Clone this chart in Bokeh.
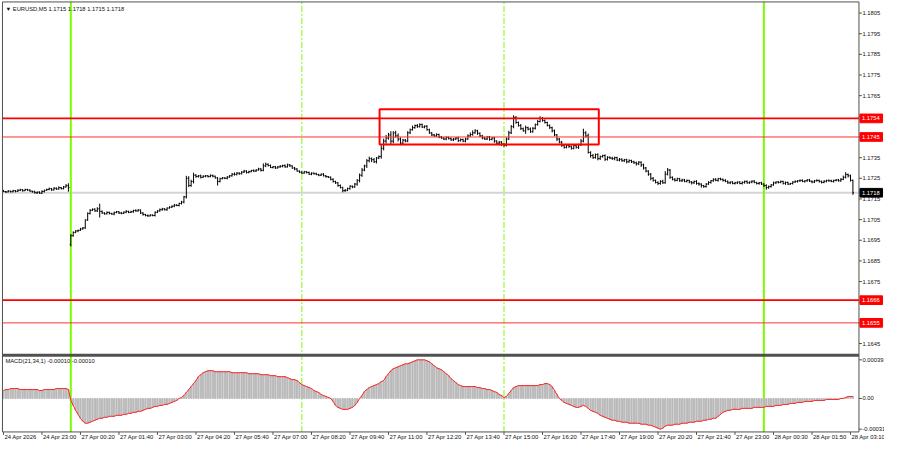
from bokeh.plotting import figure
from bokeh.models import Range1d, ColumnDataSource
from bokeh.core.properties import value
from bokeh.embed import file_html
from bokeh.resources import INLINE

# ---------------- data (prices in points of 0.00001 above 1.17000) ----------------
first_open = 190
monday_index = 28
monday_open = -70
closes = [
    186, 184, 188, 185, 190, 187, 192, 195, 190, 196,
    193, 188, 185, 180, 183, 178, 186, 192, 196, 200,
    194, 202, 198, 205, 200, 208, 214, 205,
    -28, -12, -5, -2, 5, 10, 48, 80, 95, 100,
    92, 102, 90, 82, 78, 85, 80, 77, 84, 88,
    82, 80, 86, 90, 85, 88, 94, 92, 96, 82,
    75, 70, 68, 72, 70, 85, 92, 98, 102, 98,
    106, 110, 115, 120, 118, 128, 135, 160, 250, 215,
    235, 265, 258, 262, 255, 260, 262, 258, 264, 260,
    252, 235, 248, 252, 250, 256, 262, 270, 268, 275,
    272, 280, 285, 278, 282, 288, 285, 290, 295, 288,
    310, 318, 312, 302, 306, 300, 305, 308, 312, 305,
    315, 310, 300, 295, 285, 280, 275, 282, 278, 270,
    275, 272, 268, 265, 270, 262, 258, 255, 245, 235,
    228, 215, 205, 190, 192, 200, 212, 208, 222, 240,
    265, 290, 310, 335, 345, 340, 330, 348, 355, 395,
    430, 445, 460, 430, 470, 455, 440, 420, 435, 430,
    470, 485, 495, 505, 500, 510, 498, 502, 485, 470,
    460, 455, 462, 450, 445, 440, 448, 442, 436, 440,
    445, 432, 438, 430, 440, 455, 462, 470, 480, 468,
    455, 445, 440, 450, 438, 445, 430, 420, 425, 415,
    410, 440, 470, 500, 545, 520, 505, 490, 480, 495,
    488, 475, 492, 510, 525, 540, 530, 520, 505, 495,
    480, 460, 440, 425, 410, 400, 410, 405, 395, 408,
    400, 412, 430, 470, 455, 375, 360, 350, 365, 345,
    355, 360, 342, 352, 348, 345, 350, 338, 342, 335,
    340, 330, 336, 330, 325, 320, 328, 315, 300, 285,
    270, 250, 240, 230, 225, 235, 228, 270, 290, 255,
    245, 240, 248, 238, 242, 235, 240, 232, 228, 235,
    225, 222, 215, 210, 222, 230, 238, 245, 240, 248,
    245, 240, 235, 228, 232, 225, 228, 232, 225, 230,
    235, 228, 232, 236, 230, 225, 228, 222, 215, 205,
    210, 218, 228, 232, 230, 235, 226, 230, 222, 225,
    232, 235, 238, 240, 235, 238, 242, 236, 232, 238,
    240, 235, 230, 236, 240, 238, 235, 240, 242, 238,
    245, 255, 268, 262, 240, 180,
]
hi_wick = [
    4, 3, 5, 2, 4, 3, 5, 4, 2, 3,
    3, 4, 2, 5, 3, 4, 6, 3, 4, 5,
    3, 5, 4, 6, 3, 5, 8, 12,
    8, 5, 4, 3, 5, 4, 3, 5, 6, 4,
    5, 8, 25, 4, 3, 5, 4, 3, 5, 4,
    3, 5, 4, 6, 3, 5, 4, 6, 5, 3,
    4, 3, 5, 4, 3, 5, 4, 6, 5, 4,
    3, 5, 4, 6, 5, 4, 6, 5, 12, 10,
    8, 12, 5, 4, 6, 5, 4, 3, 5, 4,
    3, 4, 5, 4, 3, 5, 4, 6, 8, 5,
    4, 5, 6, 4, 5, 3, 5, 4, 6, 5,
    12, 8, 4, 5, 3, 4, 5, 6, 4, 5,
    6, 4, 3, 5, 4, 3, 5, 4, 3, 5,
    4, 3, 5, 4, 3, 5, 4, 3, 4, 5,
    3, 4, 5, 4, 6, 5, 4, 3, 5, 6,
    8, 10, 6, 8, 10, 6, 8, 5, 6, 15,
    12, 15, 10, 18, 8, 10, 12, 8, 6, 5,
    8, 6, 10, 5, 8, 6, 5, 4, 6, 5,
    4, 5, 6, 4, 5, 3, 5, 4, 6, 5,
    4, 6, 5, 4, 6, 8, 10, 12, 8, 5,
    4, 5, 6, 4, 5, 3, 5, 4, 6, 5,
    6, 8, 10, 8, 10, 6, 5, 8, 6, 10,
    5, 8, 6, 5, 8, 10, 6, 5, 4, 6,
    5, 6, 4, 5, 6, 4, 5, 6, 4, 5,
    6, 5, 10, 20, 8, 12, 6, 8, 5, 6,
    5, 4, 6, 5, 4, 6, 5, 4, 6, 5,
    4, 5, 6, 4, 5, 6, 5, 4, 6, 5,
    4, 5, 6, 4, 5, 6, 8, 15, 10, 5,
    4, 6, 5, 4, 6, 5, 4, 3, 5, 4,
    6, 5, 4, 3, 5, 6, 4, 5, 6, 4,
    5, 4, 6, 5, 3, 4, 5, 3, 4, 5,
    4, 5, 3, 4, 5, 3, 4, 5, 4, 6,
    5, 4, 6, 3, 5, 4, 3, 5, 4, 3,
    4, 5, 3, 4, 5, 3, 4, 5, 3, 4,
    5, 3, 4, 5, 3, 4, 5, 3, 4, 5,
    6, 8, 12, 5, 6, 4,
]
lo_wick = [
    3, 5, 2, 4, 3, 5, 3, 4, 5, 2,
    4, 3, 5, 4, 6, 3, 4, 5, 3, 4,
    5, 3, 4, 3, 5, 4, 3, 20,
    10, 5, 4, 6, 3, 4, 5, 4, 5, 3,
    4, 5, 30, 5, 4, 3, 5, 4, 6, 3,
    5, 4, 3, 5, 4, 3, 5, 4, 3, 5,
    6, 4, 5, 3, 4, 5, 3, 4, 5, 4,
    5, 3, 4, 5, 3, 4, 5, 6, 8, 8,
    6, 10, 5, 4, 6, 3, 5, 4, 3, 5,
    4, 20, 5, 3, 4, 5, 3, 4, 5, 4,
    5, 3, 4, 5, 4, 3, 5, 4, 3, 5,
    4, 6, 5, 3, 4, 5, 3, 4, 5, 4,
    3, 5, 4, 6, 3, 5, 4, 3, 5, 4,
    5, 4, 3, 5, 4, 3, 5, 4, 5, 6,
    5, 6, 4, 8, 6, 4, 5, 6, 4, 8,
    10, 8, 6, 10, 8, 12, 6, 8, 5, 10,
    10, 12, 8, 15, 10, 8, 12, 10, 8, 6,
    5, 6, 4, 5, 6, 4, 5, 6, 4, 5,
    6, 4, 5, 6, 4, 5, 6, 4, 5, 6,
    5, 6, 4, 5, 6, 4, 5, 6, 4, 8,
    5, 6, 4, 5, 6, 4, 8, 6, 10, 8,
    8, 6, 5, 6, 8, 6, 5, 6, 4, 15,
    6, 5, 4, 6, 5, 4, 6, 5, 4, 6,
    8, 6, 10, 6, 8, 6, 5, 8, 6, 5,
    6, 8, 5, 6, 8, 5, 10, 6, 5, 8,
    6, 5, 8, 6, 5, 6, 8, 5, 6, 5,
    6, 8, 5, 6, 5, 8, 6, 10, 8, 6,
    8, 10, 6, 5, 8, 6, 5, 4, 6, 8,
    5, 6, 4, 5, 6, 4, 5, 6, 8, 5,
    6, 8, 10, 6, 5, 4, 6, 5, 4, 6,
    5, 6, 4, 5, 6, 4, 5, 6, 4, 5,
    6, 4, 5, 6, 4, 5, 6, 4, 8, 10,
    6, 5, 4, 6, 5, 4, 6, 8, 5, 4,
    5, 4, 6, 5, 4, 6, 5, 4, 6, 5,
    4, 6, 5, 4, 6, 5, 4, 6, 5, 4,
    5, 4, 6, 8, 6, 10,
]
# MACD(21,34,1) main values in units of 0.00001
macd = [
    8, 9, 9, 10, 10, 10, 10, 9, 9, 9,
    9, 9, 9, 9, 9, 8, 8, 9, 9, 9,
    9, 9, 10, 10, 10, 10, 10, 9,
    -2, -7, -12, -16, -20, -23, -25, -25, -24, -23,
    -22, -21, -20, -20, -19, -19, -18, -18, -18, -17,
    -17, -17, -16, -16, -15, -15, -14, -14, -13, -13,
    -12, -11, -10, -10, -9, -8, -8, -7, -7, -6,
    -6, -5, -4, -3, -2, 0, 1, 3, 6, 9,
    12, 15, 18, 22, 24, 26, 27, 28, 28, 28,
    27, 27, 27, 27, 27, 27, 27, 26, 26, 26,
    26, 26, 26, 26, 25, 25, 25, 25, 25, 24,
    24, 24, 24, 23, 23, 23, 22, 22, 22, 22,
    21, 20, 19, 19, 18, 16, 14, 13, 12, 11,
    10, 8, 7, 6, 4, 3, 2, 1, 0, -3,
    -7, -9, -10, -11, -11, -11, -10, -9, -7, -4,
    0, 3, 7, 9, 11, 12, 13, 14, 15, 17,
    18, 22, 25, 28, 30, 31, 32, 33, 34, 35,
    35, 36, 37, 38, 39, 39, 39, 39, 38, 37,
    35, 33, 31, 30, 29, 27, 25, 23, 20, 18,
    16, 14, 13, 12, 12, 12, 12, 12, 12, 11,
    11, 10, 10, 9, 9, 8, 7, 6, 4, 3,
    1, 2, 5, 8, 11, 12, 13, 13, 13, 13,
    13, 13, 13, 13, 13, 14, 14, 15, 15, 14,
    12, 8, 4, 0, -2, -4, -5, -6, -7, -8,
    -9, -9, -8, -7, -8, -10, -12, -13, -14, -15,
    -17, -18, -19, -20, -21, -22, -22, -23, -23, -24,
    -24, -24, -25, -25, -25, -25, -25, -26, -26, -26,
    -27, -27, -28, -29, -30, -31, -30, -28, -27, -27,
    -27, -26, -26, -26, -25, -25, -25, -24, -24, -24,
    -23, -23, -23, -22, -22, -21, -21, -20, -20, -18,
    -16, -14, -13, -12, -12, -11, -11, -11, -11, -10,
    -10, -10, -10, -10, -9, -9, -9, -9, -9, -8,
    -8, -8, -8, -7, -7, -7, -6, -6, -6, -5,
    -5, -5, -4, -4, -4, -3, -3, -3, -3, -2,
    -2, -2, -2, -2, -1, -1, -1, -1, -1, -1,
    0, 0, 1, 2, 2, 2,
]
time_labels = ["24 Apr 2026", "24 Apr 23:00", "27 Apr 00:20", "27 Apr 01:40", "27 Apr 03:00",
               "27 Apr 04:20", "27 Apr 05:40", "27 Apr 07:00", "27 Apr 08:20", "27 Apr 09:40",
               "27 Apr 11:00", "27 Apr 12:20", "27 Apr 13:40", "27 Apr 15:00", "27 Apr 16:20",
               "27 Apr 17:40", "27 Apr 19:00", "27 Apr 20:20", "27 Apr 21:40", "27 Apr 23:00",
               "28 Apr 00:30", "28 Apr 01:50", "28 Apr 03:10"]
time_label_bars = [0, 16, 32, 48, 64, 80, 96, 112, 128, 144, 160, 176, 192, 208, 224,
                   240, 256, 272, 288, 304, 320, 336, 352]
price_ticks = [1.1645, 1.1655, 1.1665, 1.1675, 1.1685, 1.1695, 1.1705, 1.1715, 1.1725,
               1.1735, 1.1745, 1.1755, 1.1765, 1.1775, 1.1785, 1.1795, 1.1805]
hidden_price_ticks = [1.1655, 1.1665, 1.1745, 1.1755]
macd_ticks = [39, 0, -31]
macd_tick_text = ["0.00039", "0.00", "-0.00031"]
red_levels_thick = [1.1754, 1.1666]
red_levels_thin = [1.1745, 1.1655]
bid_price = 1.1718
day_lines = [28, 316]
session_lines = [124, 208]
box_left, box_right, box_low, box_high = 156.3, 247.4, 1.17414, 1.17584
header_text = "\u25bc EURUSD,M5  1.1715 1.1718 1.1715 1.1718"
macd_header = "MACD(21,34,1) -0.00010 -0.00010"

N = len(closes)
assert len(hi_wick) == N and len(lo_wick) == N and len(macd) == N, (N, len(hi_wick), len(lo_wick), len(macd))

# ---------------- derived OHLC ----------------
BASE = 1.17
opens_p = [first_open] + closes[:-1]
opens_p[monday_index] = monday_open
o = [BASE + v / 1e5 for v in opens_p]
c = [BASE + v / 1e5 for v in closes]
h = [BASE + (max(a, b) + w) / 1e5 for a, b, w in zip(opens_p, closes, hi_wick)]
l = [BASE + (min(a, b) - w) / 1e5 for a, b, w in zip(opens_p, closes, lo_wick)]
ks = list(range(N))

# ---------------- layout (MetaTrader-like window, in reference pixels) ----------------
W, H = 884, 444
REF_W, REF_H = 900, 460
BAR_PX = 2.45          # bar spacing
BAR0_PX = 3.0          # x of bar 0
PIP_PX = 21.4          # pixels per 0.001
P_REF, P_REF_Y = 1.1805, 13.0
M_ZERO_Y, M_PX = 412.3, 1.026
FRAME_L, FRAME_R, FRAME_T, FRAME_B = 2.0, 874.0, 1.5, 447.0
SEP_Y = 367.5


def kx(px):
    return (px - BAR0_PX) / BAR_PX


def py(px):
    return P_REF - (px - P_REF_Y) / PIP_PX * 0.001


def my(px):
    return (M_ZERO_Y - px) / M_PX


FONT = "Liberation Sans"
AX = "#505050"
TXT = "#111111"

p = figure(width=W, height=H, output_backend="svg", toolbar_location=None, tools="",
           x_range=Range1d(kx(0), kx(REF_W)), y_range=Range1d(py(REF_H), py(0)),
           x_axis_location=None, y_axis_location=None,
           min_border_left=0, min_border_right=0, min_border_top=0, min_border_bottom=0)
p.extra_y_ranges = {"macd": Range1d(my(REF_H), my(0))}
p.xgrid.visible = False
p.ygrid.visible = False
p.outline_line_color = None
p.background_fill_color = "white"
p.border_fill_color = "white"

xl, xr = kx(FRAME_L), kx(FRAME_R)
yt, yb = py(FRAME_T), py(FRAME_B)

# background lines: bid line and vertical day / session separators
p.segment(x0=[xl], y0=[bid_price], x1=[xr], y1=[bid_price], line_color="#D4D4D4", line_width=2)
p.segment(x0=day_lines, y0=[yb] * len(day_lines), x1=day_lines, y1=[yt] * len(day_lines),
          line_color="#7CFC00", line_width=2)
p.segment(x0=session_lines, y0=[yb] * len(session_lines), x1=session_lines,
          y1=[yt] * len(session_lines), line_color="#7CFC00", line_width=1, line_dash="6 2 2 2")

# MACD window
p.vbar(x=ks, top=macd, bottom=0, width=0.5, color="#B9B9B9", y_range_name="macd")
p.line(ks, macd, line_color="#FF2020", line_width=1, y_range_name="macd")

# OHLC bars
src = ColumnDataSource(dict(k=ks, o=o, h=h, l=l, c=c,
                            kl=[x - 0.45 for x in ks], kr=[x + 0.45 for x in ks]))
p.segment(x0="k", y0="l", x1="k", y1="h", source=src, line_color="black", line_width=1)
p.segment(x0="kl", y0="o", x1="k", y1="o", source=src, line_color="black", line_width=1)
p.segment(x0="k", y0="c", x1="kr", y1="c", source=src, line_color="black", line_width=1)

# horizontal levels and the range box
p.segment(x0=[xl] * 2, y0=red_levels_thick, x1=[xr] * 2, y1=red_levels_thick,
          line_color="#FF0000", line_width=1.8)
p.segment(x0=[xl] * 2, y0=red_levels_thin, x1=[xr] * 2, y1=red_levels_thin,
          line_color="#FF3030", line_width=1)
p.quad(left=[box_left], right=[box_right], bottom=[box_low], top=[box_high],
       fill_alpha=0, line_color="#FF0000", line_width=2)

# window frames, separator
p.segment(x0=[xl, xl, xr, xl], y0=[yt, yt, yt, yb], x1=[xl, xr, xr, xr], y1=[yb, yt, yb, yb],
          line_color=AX, line_width=1)
p.segment(x0=[xl], y0=[py(SEP_Y)], x1=[xr], y1=[py(SEP_Y)], line_color=AX, line_width=3)

# right price scale
tick_x0, tick_x1, lab_x = kx(FRAME_R), kx(FRAME_R + 3), kx(FRAME_R + 3.5)
p.segment(x0=[tick_x0] * len(price_ticks), y0=price_ticks, x1=[tick_x1] * len(price_ticks),
          y1=price_ticks, line_color=AX, line_width=1)
shown = [t for t in price_ticks if t not in hidden_price_ticks]
p.text(x=[lab_x] * len(shown), y=shown, text=[f"{t:.4f}" for t in shown],
       text_font=value(FONT), text_font_size=value("5.8px"), text_color=TXT,
       text_align="left", text_baseline="middle")
# MACD scale
p.segment(x0=[tick_x0] * len(macd_ticks), y0=macd_ticks, x1=[tick_x1] * len(macd_ticks),
          y1=macd_ticks, line_color=AX, line_width=1, y_range_name="macd")
p.text(x=[lab_x] * len(macd_ticks), y=macd_ticks, text=macd_tick_text, y_range_name="macd",
       text_font=value(FONT), text_font_size=value("5.8px"), text_color=TXT,
       text_align="left", text_baseline="middle")

# level price tags on the scale
tags = red_levels_thick + red_levels_thin + [bid_price]
tag_cols = ["#FF0000"] * 4 + ["#000000"]
half = 4.5 / PIP_PX * 0.001
p.quad(left=[kx(FRAME_R + 1)] * 5, right=[kx(FRAME_R + 24)] * 5,
       bottom=[t - half for t in tags], top=[t + half for t in tags],
       fill_color=tag_cols, line_color=tag_cols)
p.text(x=[kx(FRAME_R + 3)] * 5, y=tags, text=[f"{t:.4f}" for t in tags],
       text_font=value(FONT), text_font_size=value("5.8px"), text_color="white",
       text_align="left", text_baseline="middle")

# time scale
p.segment(x0=time_label_bars, y0=[yb] * len(time_label_bars), x1=time_label_bars,
          y1=[py(FRAME_B + 3)] * len(time_label_bars), line_color=AX, line_width=1)
p.text(x=[t + 0.4 for t in time_label_bars], y=[py(452.5)] * len(time_label_bars), text=time_labels,
       text_font=value(FONT), text_font_size=value("5.9px"), text_color=TXT,
       text_align="left", text_baseline="middle")

# window headers
p.text(x=[kx(5)], y=[py(9)], text=[header_text], text_font=value(FONT),
       text_font_size=value("5.8px"), text_color=TXT, text_align="left", text_baseline="middle")
p.text(x=[kx(5)], y=[my(374)], text=[macd_header], y_range_name="macd", text_font=value(FONT),
       text_font_size=value("5.8px"), text_color=TXT, text_align="left", text_baseline="middle")

open("out.html", "w").write(file_html(p, INLINE))
